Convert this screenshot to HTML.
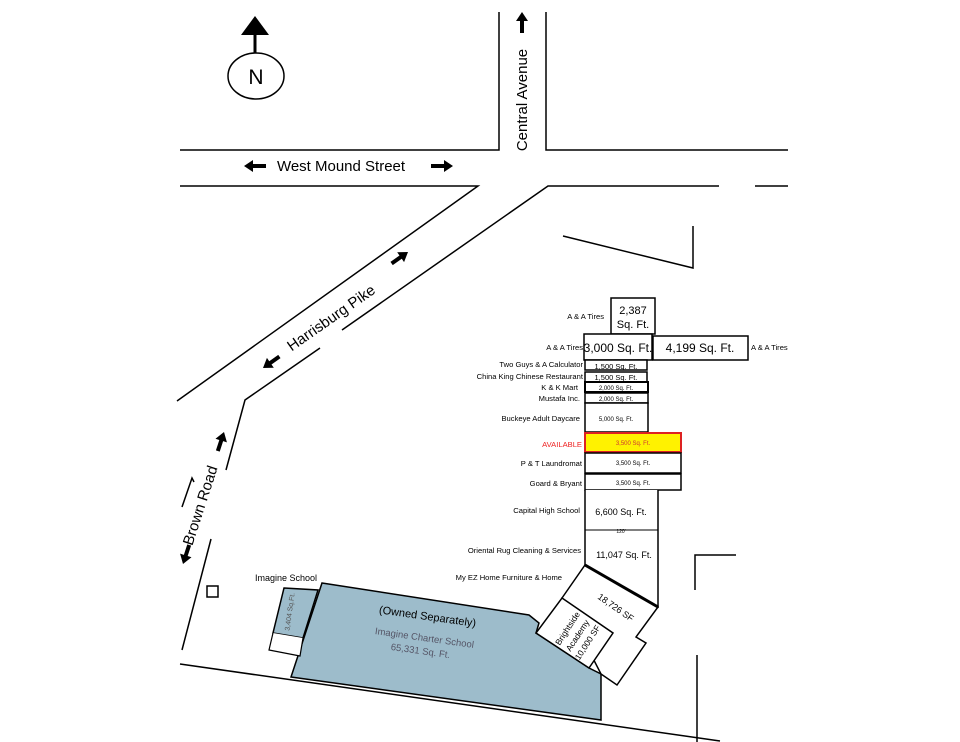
<!DOCTYPE html>
<html><head><style>body{margin:0;background:#fff}svg{display:block}</style></head><body>
<svg width="960" height="742" viewBox="0 0 960 742" xmlns="http://www.w3.org/2000/svg" font-family="Liberation Sans, sans-serif">
<g stroke="#000" stroke-width="1.5" fill="none">
<polyline points="180,150 499,150 499,12"/>
<polyline points="546,12 546,150 788,150"/>
<polyline points="180,186 478,186 177,401"/>
<polyline points="788,186 755,186"/>
<polyline points="719,186 548,186 342,330"/>
<polyline points="320,348 245,400 226,470"/>
<line x1="211" y1="539" x2="182" y2="650"/>
<polyline points="182,507 192,478 194,482"/>
<line x1="180" y1="664" x2="720" y2="741"/>
<polyline points="563,236 693,268 693,226"/>
<polyline points="736,555 695,555 695,590"/>
<line x1="697" y1="655" x2="697" y2="742"/>
<rect x="207" y="586" width="11" height="11"/>
</g>
<ellipse cx="256" cy="76" rx="28" ry="23" fill="#fff" stroke="#000" stroke-width="1.5"/>
<text x="256" y="84" font-size="21" text-anchor="middle">N</text>
<line x1="255" y1="53" x2="255" y2="33" stroke="#000" stroke-width="3"/>
<polygon points="241,35 269,35 255,16" fill="#000"/>
<text x="341" y="171" font-size="15" text-anchor="middle">West Mound Street</text>
<g fill="#000">
<polygon points="244,166 253,160 253,164 266,164 266,168 253,168 253,172"/>
<polygon points="453,166 444,160 444,164 431,164 431,168 444,168 444,172"/>
<polygon points="522,12 516,21 520,21 520,33 524,33 524,21 528,21"/>
</g>
<text transform="translate(527,100) rotate(-90)" font-size="15" text-anchor="middle">Central Avenue</text>
<text transform="translate(334,322) rotate(-35)" font-size="15" text-anchor="middle">Harrisburg Pike</text>
<text transform="translate(205,507) rotate(-72)" font-size="15" text-anchor="middle">Brown Road</text>
<g fill="#000">
<polygon points="0,0 -9,-6 -9,-2 -20,-2 -20,2 -9,2 -9,6" transform="translate(408,252) rotate(-35)"/>
<polygon points="0,0 -9,-6 -9,-2 -20,-2 -20,2 -9,2 -9,6" transform="translate(263,368) rotate(145)"/>
<polygon points="0,0 -9,-6 -9,-2 -20,-2 -20,2 -9,2 -9,6" transform="translate(224,432) rotate(-72)"/>
<polygon points="0,0 -9,-6 -9,-2 -20,-2 -20,2 -9,2 -9,6" transform="translate(183,564) rotate(108)"/>
</g>
<polygon points="322,583 529,615 539,623 536,633 589,668 601,674 601,720 291,677" fill="#9dbccb" stroke="#000" stroke-width="1.5"/>
<polygon points="284,588 318,590 303,638 273,633" fill="#9dbccb" stroke="#000" stroke-width="1.5"/>
<polyline points="273,633 269,650 300,656 303,638" fill="#fff" stroke="#000" stroke-width="1.2"/>
<text transform="translate(292,612) rotate(-82)" font-size="7" fill="#555" text-anchor="middle">3,404 Sq.Ft.</text>
<text x="286" y="581" font-size="9" text-anchor="middle">Imagine School</text>
<text transform="translate(427,620) rotate(8)" font-size="11" text-anchor="middle">(Owned Separately)</text>
<text transform="translate(424,641) rotate(8)" font-size="9.5" fill="#556" text-anchor="middle">Imagine Charter School</text>
<text transform="translate(420,654) rotate(8)" font-size="9.5" fill="#556" text-anchor="middle">65,331 Sq. Ft.</text>
<g stroke="#000" stroke-width="1.5" fill="#fff">
<rect x="611" y="298" width="44" height="36"/>
<rect x="584" y="334" width="68" height="26"/>
<rect x="653" y="336" width="95" height="24"/>
<rect x="585" y="360" width="62" height="10"/>
<rect x="585" y="372" width="62" height="10"/>
<rect x="585" y="382" width="63" height="10" stroke-width="2"/>
<rect x="585" y="393" width="63" height="10"/>
<rect x="585" y="403" width="63" height="29"/>
<rect x="585" y="433" width="96" height="19" fill="#fff200" stroke="#d22" stroke-width="2"/>
<rect x="585" y="453" width="96" height="20"/>
<rect x="585" y="474" width="96" height="16"/>
<polyline points="585,490 585,565 658,607 658,490"/>
<line x1="585" y1="530" x2="658" y2="530" stroke-width="1"/>
<polygon points="585,565 658,607 636,637 646,643 617,685 601,674 562,598"/>
<line x1="585" y1="565" x2="658" y2="607" stroke-width="3"/>
<polygon points="562,598 613,633 589,668 536,633"/>
</g>
<g font-size="7.6" text-anchor="end">
<text x="604" y="319">A &amp; A Tires</text>
<text x="583" y="350">A &amp; A Tires</text>
<text x="583" y="367">Two Guys &amp;  A Calculator</text>
<text x="583" y="379">China King Chinese Restaurant</text>
<text x="578" y="390">K &amp; K Mart</text>
<text x="580" y="401">Mustafa Inc.</text>
<text x="580" y="421">Buckeye Adult Daycare</text>
<text x="582" y="447" fill="#e22">AVAILABLE</text>
<text x="582" y="466">P &amp; T Laundromat</text>
<text x="582" y="486">Goard &amp; Bryant</text>
<text x="580" y="513">Capital High School</text>
<text x="581" y="553">Oriental Rug Cleaning &amp; Services</text>
<text x="562" y="580">My EZ Home Furniture &amp; Home</text>
</g>
<text x="751" y="350" font-size="7.6">A &amp; A Tires</text>
<g text-anchor="middle">
<text x="633" y="314" font-size="11">2,387</text>
<text x="633" y="328" font-size="11">Sq. Ft.</text>
<text x="618" y="352" font-size="12">3,000 Sq. Ft.</text>
<text x="700" y="352" font-size="12">4,199 Sq. Ft.</text>
<text x="616" y="369" font-size="7.5">1,500 Sq. Ft.</text>
<text x="616" y="380" font-size="7.5">1,500 Sq. Ft.</text>
<text x="616" y="390" font-size="6">2,000 Sq. Ft.</text>
<text x="616" y="401" font-size="6">2,000 Sq. Ft.</text>
<text x="616" y="421" font-size="6">5,000 Sq. Ft.</text>
<text x="633" y="445" font-size="6" fill="#c33">3,500 Sq. Ft.</text>
<text x="633" y="465" font-size="6">3,500 Sq. Ft.</text>
<text x="633" y="485" font-size="6">3,500 Sq. Ft.</text>
<text x="621" y="515" font-size="9">6,600 Sq. Ft.</text>
<text x="621" y="533" font-size="5">120'</text>
<text x="624" y="558" font-size="9">11,047 Sq. Ft.</text>
<text transform="translate(614,610) rotate(35)" font-size="9">18,726 SF</text>
<text transform="translate(570,630) rotate(-57)" font-size="8.5">Brightside</text>
<text transform="translate(580,637) rotate(-57)" font-size="8.5">Academy</text>
<text transform="translate(590,644) rotate(-57)" font-size="8.5">10,000 SF</text>
</g>
</svg>
</body></html>
